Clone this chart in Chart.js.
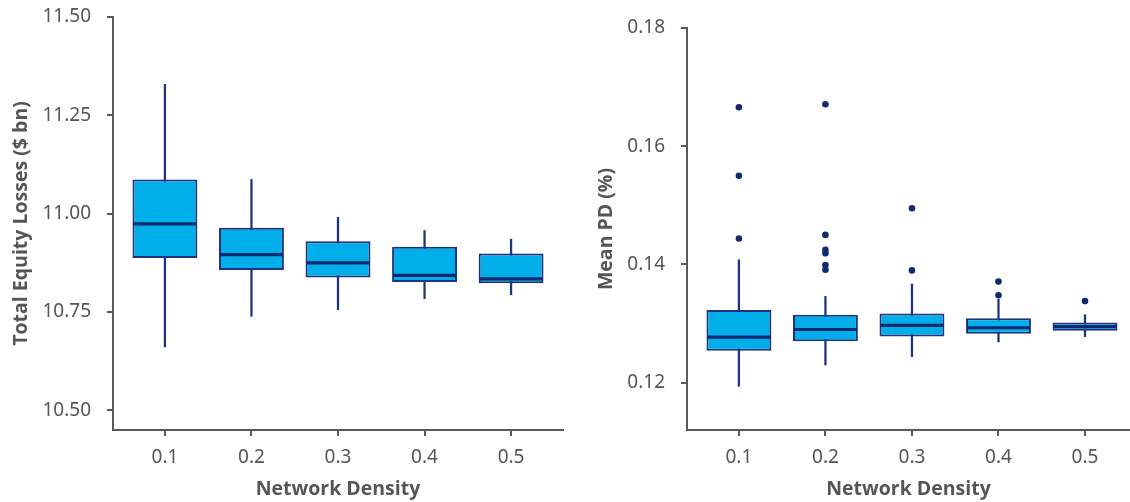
<!DOCTYPE html>
<html>
<head>
<meta charset="utf-8">
<script src="https://cdn.jsdelivr.net/npm/chart.js@4.4.1/dist/chart.umd.min.js"></script>
<style>
  html, body { margin: 0; padding: 0; background: #ffffff; }
  #wrap { position: relative; width: 1130px; height: 502px; }
  .box { position: absolute; top: 0; height: 502px; }
  #b1 { left: 0; width: 565px; }
  #b2 { left: 565px; width: 565px; }
</style>
</head>
<body>
<div id="wrap">
  <div class="box" id="b1"><canvas id="c1" width="565" height="502"></canvas></div>
  <div class="box" id="b2"><canvas id="c2" width="565" height="502"></canvas></div>
</div>
<script>
// ---------- data ----------
const densities = [0.1, 0.2, 0.3, 0.4, 0.5];

// Chart 1: Total Equity Losses ($ bn)
const lossMin    = [10.661, 10.739, 10.756, 10.784, 10.794];
const lossQ1     = [10.887, 10.857, 10.838, 10.826, 10.823];
const lossMedian = [10.974, 10.896, 10.875, 10.843, 10.834];
const lossQ3     = [11.087, 10.964, 10.930, 10.916, 10.899];
const lossMax    = [11.329, 11.087, 10.991, 10.957, 10.935];
const lossTicks  = [10.50, 10.75, 11.00, 11.25, 11.50];

// Chart 2: Mean PD (%)
const pdMin    = [0.1194, 0.1230, 0.1244, 0.1269, 0.1278];
const pdQ1     = [0.1254, 0.1270, 0.1278, 0.1283, 0.1288];
const pdMedian = [0.1277, 0.1290, 0.1297, 0.1293, 0.1295];
const pdQ3     = [0.1323, 0.1315, 0.1317, 0.1309, 0.1302];
const pdMax    = [0.1408, 0.1346, 0.1367, 0.1341, 0.1315];
const pdOutliers = [
  [0.1666, 0.1550, 0.1444],
  [0.1671, 0.1450, 0.1425, 0.1419, 0.1399, 0.1391],
  [0.1495, 0.1390],
  [0.1371, 0.1348],
  [0.1338]
];
const pdTicks = [0.12, 0.14, 0.16, 0.18];

// ---------- styling ----------
const BOX_FILL = '#00afea';
const NAVY = '#1d3280';
const MEDIAN = '#112a6e';
const AXIS = '#595959';
const TICK_TXT = '#555555';
const TITLE_TXT = '#555555';
const TICK_FONT = { family: '"Noto Sans", "Open Sans", sans-serif', size: 19 };
const TITLE_FONT = { family: '"Open Sans", Lato, sans-serif', size: 19.5, weight: 'bold' };

function buildDatasets(mins, q1, med, q3, maxs, outliers) {
  const ds = [
    {
      type: 'bar', label: 'whisker', order: 3, grouped: false,
      data: densities.map((d, i) => ({ x: d, y: [mins[i], maxs[i]] })),
      backgroundColor: NAVY, borderWidth: 0, barThickness: 1.6
    },
    {
      type: 'bar', label: 'box', order: 2, grouped: false,
      data: densities.map((d, i) => ({ x: d, y: [q1[i], q3[i]] })),
      backgroundColor: BOX_FILL, borderColor: NAVY, borderWidth: 2,
      borderSkipped: false, barPercentage: 0.75, categoryPercentage: 1
    },
    {
      type: 'scatter', label: 'median', order: 1,
      data: densities.map((d, i) => ({ x: d, y: med[i] })),
      pointStyle: 'line', pointRadius: 31.5, borderColor: MEDIAN, borderWidth: 3.2,
      backgroundColor: MEDIAN
    }
  ];
  if (outliers) {
    const pts = [];
    densities.forEach((d, i) => outliers[i].forEach(v => pts.push({ x: d, y: v })));
    ds.push({
      type: 'scatter', label: 'outliers', order: 0, data: pts,
      pointStyle: 'circle', pointRadius: 3.3, backgroundColor: MEDIAN, borderWidth: 0
    });
  }
  return ds;
}

function makeChart(id, cfg) {
  return new Chart(document.getElementById(id), {
    type: 'bar',
    data: { datasets: cfg.datasets },
    options: {
      responsive: false, animation: false,
      layout: { autoPadding: false, padding: { top: cfg.padTop, right: cfg.padRight, left: 0, bottom: 0 } },
      plugins: { legend: { display: false }, tooltip: { enabled: false } },
      scales: {
        x: {
          type: 'linear', min: cfg.xMin, max: cfg.xMax, offset: false,
          afterBuildTicks: s => { s.ticks = densities.map(v => ({ value: v })); },
          afterFit: s => { s.height = 72; s.paddingLeft = 0; s.paddingRight = 0; },
          border: { display: true, color: AXIS, width: 2 },
          grid: { drawOnChartArea: false, drawTicks: true, tickLength: 6, color: AXIS, lineWidth: 2, offset: false },
          ticks: { color: TICK_TXT, font: TICK_FONT, padding: 10, maxRotation: 0, callback: v => v.toFixed(1) },
          title: { display: true, text: 'Network Density', color: TITLE_TXT, font: TITLE_FONT, padding: { top: 0, bottom: 1 } }
        },
        y: {
          type: 'linear', min: cfg.yMin, max: cfg.yMax,
          afterBuildTicks: s => { s.ticks = cfg.yTicks.map(v => ({ value: v })); },
          afterFit: s => { s.width = cfg.yWidth; s.paddingTop = 0; s.paddingBottom = 0; },
          border: { display: true, color: AXIS, width: 2 },
          grid: { drawOnChartArea: false, drawTicks: true, tickLength: 6, color: AXIS, lineWidth: 2 },
          ticks: { color: TICK_TXT, font: TICK_FONT, padding: 16, callback: v => v.toFixed(2) },
          title: { display: true, text: cfg.yTitle, color: TITLE_TXT, font: TITLE_FONT, padding: { top: cfg.yTitlePad, bottom: 0 } }
        }
      }
    }
  });
}

makeChart('c1', {
  datasets: buildDatasets(lossMin, lossQ1, lossMedian, lossQ3, lossMax, null),
  xMin: 0.04, xMax: 0.56, yMin: 10.45, yMax: 11.5, yTicks: lossTicks,
  yTitle: 'Total Equity Losses ($ bn)', yWidth: 113, yTitlePad: 10,
  padTop: 17, padRight: 2
});

makeChart('c2', {
  datasets: buildDatasets(pdMin, pdQ1, pdMedian, pdQ3, pdMax, pdOutliers),
  xMin: 0.04, xMax: 0.552, yMin: 0.112, yMax: 0.18, yTicks: pdTicks,
  yTitle: 'Mean PD (%)', yWidth: 122, yTitlePad: 30,
  padTop: 28, padRight: 0
});
</script>
</body>
</html>
